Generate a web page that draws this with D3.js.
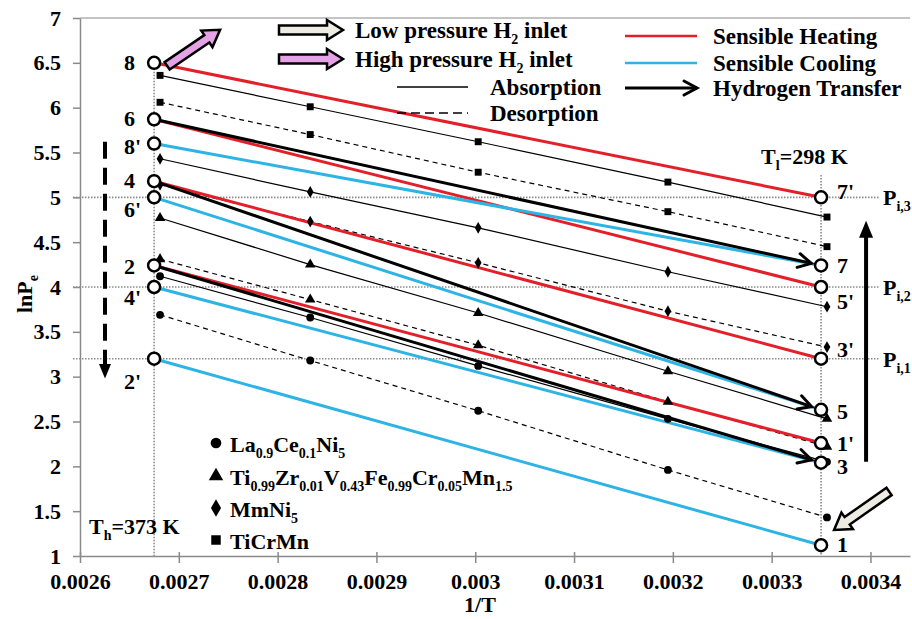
<!DOCTYPE html>
<html><head><meta charset="utf-8">
<script src="https://cdn.jsdelivr.net/npm/d3@7"></script>
<style>
body{margin:0;background:#fff}
svg{display:block}
text{font-family:"Liberation Serif","Times New Roman",serif;font-weight:bold;fill:#000}
</style>
</head><body>
<svg id="c" width="912" height="619"></svg>
<script>
// ---------------- DATA ----------------
const tempsK = [373, 353, 333, 313, 298];
const invT = [0.002681, 0.002833, 0.003003, 0.003195, 0.003356];
const laAbs = [4.12, 3.66, 3.12, 2.53, 2.05];
const laDes = [3.69, 3.18, 2.62, 1.96, 1.43];
const tiAbs = [4.77, 4.25, 3.71, 3.06, 2.53];
const tiDes = [4.31, 3.86, 3.35, 2.72, 2.22];
const mmAbs = [5.43, 5.06, 4.66, 4.17, 3.78];
const mmDes = [5.14, 4.73, 4.27, 3.73, 3.33];
const tcAbs = [6.36, 6.01, 5.62, 5.17, 4.78];
const tcDes = [6.06, 5.70, 5.28, 4.84, 4.45];
const alloyNames = ["La_{0.9}Ce_{0.1}Ni_{5}", "Ti_{0.99}Zr_{0.01}V_{0.43}Fe_{0.99}Cr_{0.05}Mn_{1.5}", "MmNi_{5}", "TiCrMn"];
const alloySymbols = ["circle", "triangle", "diamond", "square"];

const invTh = 0.002675;   // T_h = 373 K line
const invTl = 0.00335;    // T_l = 298 K line
const leftStates = ["8", "6", "8'", "4", "6'", "2", "4'", "2'"];
const leftLnP    = [6.5, 5.87, 5.6, 5.18, 5.0, 4.24, 4.0, 3.2];
const rightStates = ["7'", "7", "5'", "3'", "5", "1'", "3", "1"];
const rightLnP    = [5.0, 4.24, 4.0, 3.2, 2.63, 2.26, 2.04, 1.12];
const heatingPairs  = [["8", "7'"], ["6", "5'"], ["4", "3'"], ["2", "1'"]];
const coolingPairs  = [["8'", "7"], ["6'", "5"], ["4'", "3"], ["2'", "1"]];
const transferPairs = [["6", "7"], ["4", "5"], ["2", "3"]];
const pressureLevels = [5.0, 4.0, 3.2];
const pressureLabels = ["P_{i,3}", "P_{i,2}", "P_{i,1}"];
const xTicks = [0.0026, 0.0027, 0.0028, 0.0029, 0.003, 0.0031, 0.0032, 0.0033, 0.0034];
const xTickLabels = ["0.0026", "0.0027", "0.0028", "0.0029", "0.003", "0.0031", "0.0032", "0.0033", "0.0034"];
const yTicks = [1, 1.5, 2, 2.5, 3, 3.5, 4, 4.5, 5, 5.5, 6, 6.5, 7];
const yTickLabels = ["1", "1.5", "2", "2.5", "3", "3.5", "4", "4.5", "5", "5.5", "6", "6.5", "7"];

// ---------------- SETUP ----------------
const RED = "#e3202a", BLUE = "#2db4e4", GRAY = "#8a8a8a";
const svg = d3.select("#c");
const x = d3.scaleLinear().domain([0.0026, 0.00344]).range([80, 910]);
const y = d3.scaleLinear().domain([1, 7]).range([556, 18]);

// rich text with _{sub}
function rich(g, str, px, py, size, anchor) {
  const t = g.append("text").attr("x", px).attr("y", py).attr("font-size", size)
    .attr("text-anchor", anchor || "start");
  const parts = str.split(/(_\{[^}]*\})/).filter(s => s.length);
  let shifted = false;
  const sub = Math.round(size * 0.62), drop = Math.round(size * 0.28);
  parts.forEach(p => {
    if (p.startsWith("_{")) {
      t.append("tspan").attr("font-size", sub).attr("dy", shifted ? 0 : drop).text(p.slice(2, -1));
      shifted = true;
    } else {
      t.append("tspan").attr("dy", shifted ? -drop : 0).text(p);
      shifted = false;
    }
  });
  return t;
}

// ---------------- AXES ----------------
const axG = svg.append("g");
// top border
axG.append("line").attr("x1", x(0.0026)).attr("x2", x(0.00344)).attr("y1", y(7)).attr("y2", y(7))
  .attr("stroke", "#b0b0b0").attr("stroke-width", 1.5);
const xAxis = d3.axisBottom(x).tickValues(xTicks).tickFormat((d, i) => xTickLabels[i]).tickSizeInner(7).tickSizeOuter(0).tickPadding(10);
const gx = axG.append("g").attr("transform", `translate(0,${y(1)})`).call(xAxis);
gx.selectAll("text").attr("font-size", 22).attr("fill", "#000");
gx.selectAll(".tick").append("line").attr("y1", -4).attr("y2", 0).attr("stroke", GRAY).attr("stroke-width", 1.5);
const yAxis = d3.axisLeft(y).tickValues(yTicks).tickFormat((d, i) => yTickLabels[i]).tickSizeInner(7).tickSizeOuter(0).tickPadding(12);
const gy = axG.append("g").attr("transform", `translate(${x(0.0026)},0)`).call(yAxis);
gy.selectAll("text").attr("font-size", 22).attr("fill", "#000");
[gx, gy].forEach(g => {
  g.select(".domain").attr("stroke", GRAY).attr("stroke-width", 1.5);
  g.selectAll(".tick line").attr("stroke", GRAY).attr("stroke-width", 1.5);
  g.attr("font-family", null);
});
// titles
rich(svg, "1/T", 480, 612, 22, "middle");
const yt = rich(svg.append("g").attr("transform", "translate(32,294) rotate(-90)"), "lnP_{e}", 0, 0, 22, "middle");

// ---------------- REFERENCE LINES ----------------
const refG = svg.append("g").attr("stroke", "#8c8c8c").attr("stroke-width", 1.6).attr("stroke-dasharray", "1.5,1.5");
pressureLevels.forEach(p => {
  refG.append("line").attr("x1", x(0.0026) - 7).attr("x2", x(0.0026) + 800).attr("y1", y(p)).attr("y2", y(p));
});
refG.append("line").attr("x1", x(invTh)).attr("x2", x(invTh)).attr("y1", y(6.5)).attr("y2", y(1));
refG.append("line").attr("x1", x(invTl)).attr("x2", x(invTl)).attr("y1", y(5.25)).attr("y2", y(1));
pressureLevels.forEach((p, i) => rich(svg, pressureLabels[i], x(0.0026) + 803, y(p) + 8, 22));

// ---------------- ALLOY ISOTHERM LINES ----------------
const seriesAbs = [laAbs, tiAbs, mmAbs, tcAbs];
const seriesDes = [laDes, tiDes, mmDes, tcDes];
const line = d3.line().x((d, i) => x(invT[i])).y(d => y(d));
const thinG = svg.append("g").attr("fill", "none").attr("stroke", "#000").attr("stroke-width", 1.2);
seriesAbs.forEach(s => thinG.append("path").attr("d", line(s)));
seriesDes.forEach(s => thinG.append("path").attr("d", line(s)).attr("stroke-dasharray", "5,4"));

// ---------------- CYCLE LINES ----------------
const leftMap = {}, rightMap = {};
leftStates.forEach((s, i) => leftMap[s] = leftLnP[i]);
rightStates.forEach((s, i) => rightMap[s] = rightLnP[i]);
const cycG = svg.append("g").attr("fill", "none").attr("stroke-width", 3);
heatingPairs.forEach(([a, b]) => cycG.append("line").attr("stroke", RED)
  .attr("x1", x(invTh)).attr("y1", y(leftMap[a])).attr("x2", x(invTl)).attr("y2", y(rightMap[b])));
coolingPairs.forEach(([a, b]) => cycG.append("line").attr("stroke", BLUE)
  .attr("x1", x(invTh)).attr("y1", y(leftMap[a])).attr("x2", x(invTl)).attr("y2", y(rightMap[b])));

function chevronArrow(g, x1, y1, x2, y2, shorten, w) {
  const ang = Math.atan2(y2 - y1, x2 - x1);
  const ex = x2 - shorten * Math.cos(ang), ey = y2 - shorten * Math.sin(ang);
  g.append("line").attr("x1", x1).attr("y1", y1).attr("x2", ex).attr("y2", ey)
    .attr("stroke", "#000").attr("stroke-width", w);
  const L = 13, H = 7;
  const p = (dx, dy) => [ex + dx * Math.cos(ang) - dy * Math.sin(ang), ey + dx * Math.sin(ang) + dy * Math.cos(ang)];
  const a = p(-L, -H), b = p(0, 0), c = p(-L, H);
  g.append("path").attr("d", `M${a}L${b}L${c}`).attr("fill", "none").attr("stroke", "#000")
    .attr("stroke-width", w).attr("stroke-linejoin", "miter").attr("stroke-linecap", "round");
}
transferPairs.forEach(([a, b]) => chevronArrow(cycG, x(invTh), y(leftMap[a]), x(invTl), y(rightMap[b]), 10, 3));

// ---------------- MARKERS ----------------
const symMap = { circle: d3.symbolCircle, triangle: d3.symbolTriangle, diamond: d3.symbolDiamond, square: d3.symbolSquare };
const symSize = { circle: 48, triangle: 48, diamond: 40, square: 48 };
const mkG = svg.append("g").attr("fill", "#000");
[0, 1, 2, 3].forEach(k => {
  const sym = d3.symbol().type(symMap[alloySymbols[k]]).size(symSize[alloySymbols[k]]);
  [seriesAbs[k], seriesDes[k]].forEach(s => {
    s.forEach((v, i) => mkG.append("path").attr("d", sym()).attr("transform", `translate(${x(invT[i])},${y(v)})`));
  });
});

// ---------------- STATE CIRCLES & LABELS ----------------
const stG = svg.append("g");
const leftLabelDy = { "8": 0, "6": 0, "8'": 3, "4": 0, "6'": 13, "2": 2, "4'": 11, "2'": 23 };
const rightLabelDy = { "7'": -5, "7": 1, "5'": 15, "3'": -9, "5": 2, "1'": 1, "3": 4, "1": 0 };
leftStates.forEach((s, i) => {
  stG.append("circle").attr("cx", x(invTh)).attr("cy", y(leftLnP[i])).attr("r", 6)
    .attr("fill", "#fff").attr("stroke", "#000").attr("stroke-width", 2.5);
  stG.append("text").attr("x", x(invTh) - 30).attr("y", y(leftLnP[i]) + leftLabelDy[s] + 7)
    .attr("font-size", 22).text(s);
});
rightStates.forEach((s, i) => {
  stG.append("circle").attr("cx", x(invTl)).attr("cy", y(rightLnP[i])).attr("r", 6)
    .attr("fill", "#fff").attr("stroke", "#000").attr("stroke-width", 2.5);
  stG.append("text").attr("x", x(invTl) + 16).attr("y", y(rightLnP[i]) + rightLabelDy[s] + 7)
    .attr("font-size", 22).text(s);
});

// temperature labels
rich(svg, "T_{l}=298 K", x(invTl) - 60, y(5.45) + 7, 22);
rich(svg, "T_{h}=373 K", x(0.0026) + 9, y(1.32) + 7, 22);

// ---------------- BIG ARROWS ----------------
function blockArrow(g, x0, y0, x1, y1, fill) {
  const L = Math.hypot(x1 - x0, y1 - y0), ang = Math.atan2(y1 - y0, x1 - x0) * 180 / Math.PI;
  const sh = 4.5, hh = 10, hl = 16;
  const pts = [[0, -sh], [L - hl, -sh], [L - hl, -hh], [L, 0], [L - hl, hh], [L - hl, sh], [0, sh]];
  g.append("path").attr("d", "M" + pts.join("L") + "Z")
    .attr("transform", `translate(${x0},${y0}) rotate(${ang})`)
    .attr("fill", fill).attr("stroke", "#000").attr("stroke-width", 2.5).attr("stroke-linejoin", "miter");
}
const PINK = "#e6a2e6", CREAM = "#ececE2";
blockArrow(svg, x(invTh) + 13, y(6.5) + 3, x(invTh) + 66, y(6.5) - 33, PINK);
blockArrow(svg, x(invTl) + 68, y(1.72), x(invTl) + 13, y(1.29), CREAM);

// left dashed arrow (down)
const lax = 105;
svg.append("line").attr("x1", lax).attr("x2", lax).attr("y1", y(5.62)).attr("y2", y(3.1))
  .attr("stroke", "#000").attr("stroke-width", 4).attr("stroke-dasharray", "17,9");
svg.append("path").attr("d", `M${lax - 6},${y(3.14)}L${lax + 6},${y(3.14)}L${lax},${y(2.98)}Z`).attr("fill", "#000");
// right solid arrow (up)
const rax = x(invTl) + 45;
svg.append("line").attr("x1", rax).attr("x2", rax).attr("y1", y(2.05)).attr("y2", y(4.6))
  .attr("stroke", "#000").attr("stroke-width", 4);
svg.append("path").attr("d", `M${rax - 7},${y(4.55)}L${rax + 7},${y(4.55)}L${rax},${y(4.74)}Z`).attr("fill", "#000");

// ---------------- LEGENDS ----------------
const lg = svg.append("g");
blockArrow(lg, 279, 30, 343, 30, CREAM);
rich(lg, "Low pressure H_{2} inlet", 355, 38, 23);
blockArrow(lg, 279, 59, 343, 59, PINK);
rich(lg, "High pressure H_{2} inlet", 355, 67, 23);
lg.append("line").attr("x1", 397).attr("x2", 468).attr("y1", 87).attr("y2", 87).attr("stroke", "#000").attr("stroke-width", 1.5);
rich(lg, "Absorption", 490, 95, 23);
lg.append("line").attr("x1", 397).attr("x2", 468).attr("y1", 113).attr("y2", 113).attr("stroke", "#000").attr("stroke-width", 1.5).attr("stroke-dasharray", "9,5");
rich(lg, "Desorption", 490, 121, 23);

lg.append("line").attr("x1", 625).attr("x2", 697).attr("y1", 36).attr("y2", 36).attr("stroke", RED).attr("stroke-width", 2.5);
rich(lg, "Sensible Heating", 713, 44, 23);
lg.append("line").attr("x1", 625).attr("x2", 697).attr("y1", 63).attr("y2", 63).attr("stroke", BLUE).attr("stroke-width", 2.5);
rich(lg, "Sensible Cooling", 713, 71, 23);
chevronArrow(lg, 625, 88, 697, 88, 0, 3);
rich(lg, "Hydrogen Transfer", 713, 96, 23);

const mlg = svg.append("g");
const legY = [445, 478, 510, 542];
alloyNames.forEach((n, k) => {
  const sym = d3.symbol().type(symMap[alloySymbols[k]]).size(90);
  mlg.append("path").attr("d", sym()).attr("transform", `translate(216,${legY[k] - 2})`).attr("fill", "#000");
  rich(mlg, n, 230, legY[k] + 7, 22);
});
</script>
</body></html>
